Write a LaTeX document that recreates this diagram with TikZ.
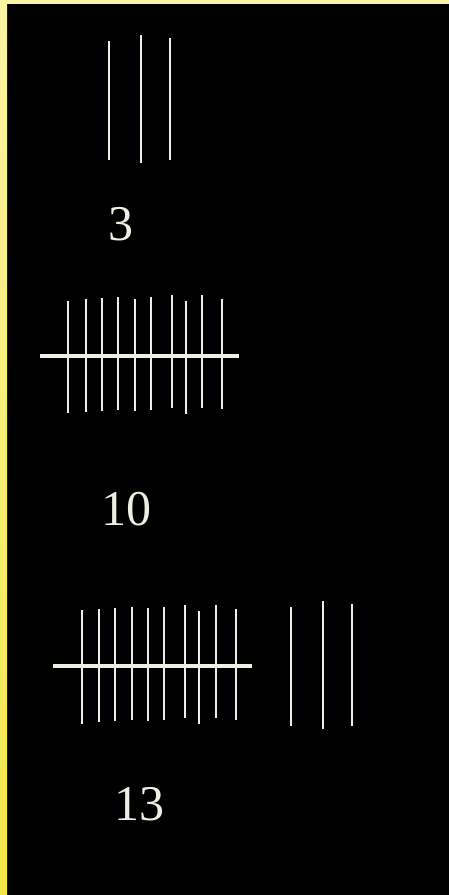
\documentclass[tikz,border=0pt]{standalone}
\usepackage{fontspec}
\setmainfont{Liberation Serif}
\definecolor{chalk}{HTML}{EFEEE3}
\definecolor{ytop}{HTML}{FAF5A6}
\definecolor{ybot}{HTML}{F2E546}
\tikzset{
  tally/.style={draw=chalk, line width=2pt},
  strike/.style={draw=chalk, line width=3.4pt},
  num/.style={text=chalk, font=\fontsize{50}{54}\selectfont, inner sep=0pt}
}
\begin{document}
\begin{tikzpicture}[x=1pt,y=-1pt]
\fill[black] (0,-5) rectangle (460,905);
\shade[top color=ytop, bottom color=ybot] (-5,-5) rectangle (7,905);
\fill[ytop] (-5,-5) rectangle (460,4);
% group 3
\draw[tally] (109.3,41) -- (109.3,160);
\draw[tally] (141.3,35.3) -- (141.3,162.7);
\draw[tally] (170.3,38) -- (170.3,160);
\node[num] (n3) at (121,224.5) {3};
% group 10
\foreach \x/\t/\b in {68.3/300.7/413.3, 85.7/299.3/412.3, 102/298.3/411, 118.3/296.7/409.7, 134.7/298.7/411.3, 151/297.3/410.3, 172.3/295.3/408.3, 186.3/301.3/414, 202.3/295.3/408.3, 222.3/299.3/409.3}
  \draw[tally] (\x,\t) -- (\x,\b);
\draw[strike] (40,356) -- (239,356);
\node[num] (n10) at (126,509.5) {10};
% group 13
\foreach \x/\t/\b in {81.7/610.3/723.7, 99.3/609.3/722.3, 115.3/608/721.3, 131.7/606.7/720, 147.7/608.3/721.3, 164.3/607.3/720.3, 185.3/605.3/718.3, 199.3/611/724.3, 216/605.3/718.3, 235.7/609.3/719.7}
  \draw[tally] (\x,\t) -- (\x,\b);
\draw[strike] (53.3,666) -- (252.3,666);
\draw[tally] (291.3,607.3) -- (291.3,726);
\draw[tally] (323.3,601.3) -- (323.3,729);
\draw[tally] (352.3,604.3) -- (352.3,726);
\node[num] (n13) at (139.7,804) {13};
\pgfresetboundingbox
\useasboundingbox (0,0) rectangle (448,895);
\end{tikzpicture}
\end{document}
